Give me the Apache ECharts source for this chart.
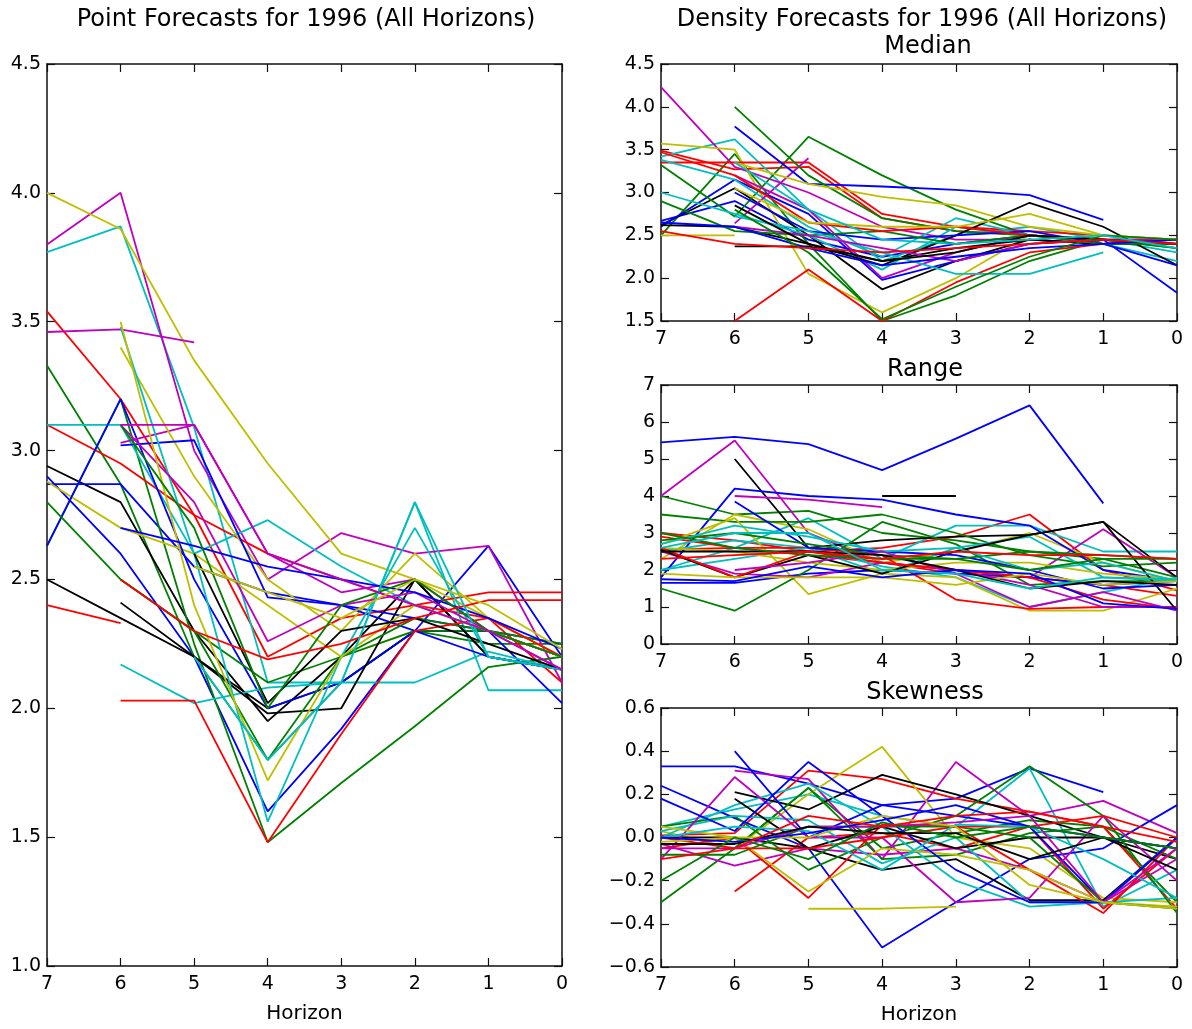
<!DOCTYPE html>
<html><head><meta charset="utf-8">
<script src="https://cdn.jsdelivr.net/npm/echarts@6/dist/echarts.min.js"></script>
<style>html,body{margin:0;padding:0;background:#fff}#c{width:1192px;height:1029px}</style>
</head><body><div id="c"></div>
<script>
// Horizons (x values), drawn with 7 on the left
const horizons = [7, 6, 5, 4, 3, 2, 1, 0];
// Colour cycle order of the lines: b, g, r, c, m, y, k (repeating)
const palette = ['#0000ff', '#008000', '#ff0000', '#00bfbf', '#bf00bf', '#bfbf00', '#000000'];

// Point forecasts (values at horizons 7..0, null = no forecast)
const pointLines = [
  [2.90, 2.60, 2.20, 1.60, 1.92, 2.30, 2.63, 2.20],
  [3.33, 2.87, 2.20, 1.80, 2.10, 2.30, 2.25, 2.25],
  [3.54, 3.20, 2.75, 2.20, 2.35, 2.40, 2.35, 2.10],
  [3.77, 3.87, 3.09, 2.10, 2.10, 2.80, 2.07, 2.07],
  [3.80, 4.00, 3.00, 2.50, 2.68, 2.60, 2.63, 2.10],
  [4.00, 3.86, 3.35, 2.95, 2.60, 2.50, 2.35, 2.20],
  [2.94, 2.80, 2.30, 1.95, 2.20, 2.50, 2.20, 2.15],

  [2.87, 2.87, 2.55, 2.45, 2.40, 2.35, 2.30, 2.25],
  [2.63, 3.20, 2.25, 1.48, 1.71, 1.93, 2.16, 2.20],
  [3.10, 2.95, 2.75, 2.60, 2.50, 2.40, 2.45, 2.45],
  [3.10, 3.10, 2.60, 2.73, 2.55, 2.40, 2.30, 2.20],
  [3.46, 3.47, 3.42, null, null, null, null, null],
  [2.88, 2.70, 2.60, 2.40, 2.20, 2.30, 2.30, 2.20],
  [2.50, 2.35, 2.20, 2.00, 2.10, 2.30, 2.30, 2.20],

  [2.63, 3.20, 2.50, 2.00, 2.10, 2.30, 2.30, 2.02],
  [2.80, 2.50, 2.30, 2.10, 2.20, 2.30, 2.30, 2.25],
  [2.40, 2.33, null, null, null, null, null, null],
  [null, 2.17, 2.02, 2.08, 2.10, 2.10, 2.22, 2.15],
  [null, 3.03, 3.10, 2.60, 2.45, 2.50, 2.30, 2.15],
  [null, 3.40, 2.90, 2.50, 2.30, 2.60, 2.35, 2.20],
  [null, 2.41, 2.20, 1.98, 2.00, 2.50, 2.20, 2.15],

  [null, 3.02, 3.04, 2.43, 2.40, 2.30, 2.20, 2.15],
  [null, 2.50, 2.30, 1.80, 2.20, 2.35, 2.30, 2.20],
  [null, 2.03, 2.03, 1.48, 1.90, 2.30, 2.35, 2.20],
  [null, 3.48, 2.60, 1.56, 2.20, 2.70, 2.20, 2.15],
  [null, 3.10, 2.80, 2.26, 2.40, 2.45, 2.30, 2.20],
  [null, 3.50, 2.40, 1.72, 2.20, 2.40, 2.30, 2.20],
  [null, null, 2.60, 2.02, 2.30, 2.35, 2.25, 2.15],

  [null, 2.70, 2.63, 2.55, 2.50, 2.45, 2.35, 2.23],
  [null, 3.10, 2.70, 2.00, 2.40, 2.50, 2.30, 2.20],
  [null, 2.50, 2.30, 2.19, 2.25, 2.35, 2.42, 2.42],
  [null, null, 2.20, 1.80, 2.10, 2.80, 2.20, 2.15],
  [null, 3.10, 3.10, 2.60, 2.50, 2.40, 2.30, 2.15],
  [null, null, 2.55, 2.45, 2.35, 2.50, 2.40, 2.23]
];

// Density forecasts: median
const medianLines = [
  [2.67, 2.90, 2.45, 2.25, 2.40, 2.50, 2.45, 2.40],
  [2.50, 3.45, 2.40, 1.50, 1.80, 2.20, 2.45, 2.40],
  [3.49, 3.27, 3.30, 2.70, 2.55, 2.50, 2.45, 2.45],
  [3.42, 3.62, 2.80, 2.20, 2.50, 2.60, 2.45, 2.30],
  [4.23, 3.30, 3.00, 2.60, 2.45, 2.45, 2.40, 2.45],
  [3.57, 3.50, 2.05, 1.60, 2.00, 2.50, 2.45, 2.40],
  [2.62, 3.05, 2.50, 1.87, 2.20, 2.45, 2.40, 2.40],

  [2.60, 3.15, 2.75, 1.98, 2.20, 2.40, 2.45, 1.83],
  [3.32, 2.72, 3.65, 3.20, 2.80, 2.50, 2.45, 2.35],
  [3.35, 3.35, 3.35, 2.75, 2.60, 2.55, 2.50, 2.45],
  [3.38, 3.15, 2.60, 2.25, 2.70, 2.50, 2.45, 2.45],
  [null, 2.64, 3.40, null, null, null, null, null],
  [2.50, 2.50, null, null, null, null, null, null],
  [null, 2.37, 2.37, 2.20, 2.35, 2.45, 2.40, 2.45],

  [null, 3.77, 3.10, 3.07, 3.03, 2.97, 2.68, null],
  [null, 4.00, 3.20, 2.70, 2.55, 2.50, 2.45, 2.35],
  [null, 1.50, 2.10, 1.50, 1.95, 2.30, 2.40, 2.45],
  [3.00, 2.75, 2.50, 2.10, 2.60, 2.50, 2.40, 2.20],
  [null, 3.20, 2.80, 2.00, 2.30, 2.50, 2.45, 2.40],
  [null, 3.35, 3.10, 2.95, 2.85, 2.60, 2.50, 2.45],
  [2.62, 2.60, 2.40, 2.15, 2.50, 2.88, 2.60, 2.15],

  [null, 3.00, 2.55, 2.45, 2.50, 2.55, 2.40, 2.15],
  [2.90, 2.55, 2.50, 2.55, 2.40, 2.50, 2.40, 2.40],
  [3.47, 3.20, 2.65, 2.55, 2.60, 2.50, 2.45, 2.40],
  [null, 2.72, 2.55, 2.30, 2.05, 2.05, 2.30, null],
  [null, 2.60, 2.50, 2.35, 2.20, 2.40, 2.45, 2.45],
  [null, 3.05, 2.65, 2.60, 2.60, 2.75, 2.50, 2.45],
  [null, 2.85, 2.40, 2.20, 2.30, 2.50, 2.45, 2.40],

  [2.65, 2.60, 2.35, 2.15, 2.25, 2.35, 2.40, 2.45],
  [null, 2.80, 2.30, 1.52, 1.90, 2.25, 2.50, 2.45],
  [2.55, 2.40, 2.35, 2.30, 2.35, 2.40, 2.45, 2.40],
  [null, 3.35, 2.80, 2.45, 2.40, 2.45, 2.50, 2.35]
];

// Density forecasts: range
const rangeLines = [
  [5.45, 5.60, 5.40, 4.70, 5.55, 6.45, 3.80, null],
  [4.00, 3.50, 3.60, 3.00, 2.80, 2.50, 2.30, 1.80],
  [3.00, 2.80, 2.50, 2.60, 2.90, 3.50, 2.00, 1.45],
  [2.00, 2.60, 3.40, 2.30, 3.20, 3.20, 2.50, 2.50],
  [4.00, 5.50, 3.00, 2.20, 2.00, 1.80, 3.10, 1.80],
  [2.30, 3.50, 3.10, 2.20, 2.50, 3.00, 2.20, 1.70],
  [null, 5.00, 2.60, 2.80, 2.90, 2.95, 3.30, 1.80],

  [1.80, 4.20, 4.00, 3.90, 3.50, 3.20, 2.00, 1.70],
  [3.50, 3.30, 3.30, 3.50, 3.00, 2.40, 2.10, 2.20],
  [2.55, 2.60, 2.40, 2.20, 1.90, 1.80, 1.60, 1.30],
  [2.50, 2.80, 2.60, 2.10, 1.80, 1.00, 1.40, 1.80],
  [null, 4.00, 3.90, 3.70, null, null, null, null],
  [2.70, 3.40, 1.35, 1.90, 1.80, 0.90, 0.90, 1.50],
  [null, null, null, 4.00, 4.00, null, null, null],

  [1.65, 1.65, 1.90, 2.00, 1.90, 1.80, 1.60, 1.70],
  [1.50, 0.90, 2.00, 3.30, 2.70, 1.60, 1.70, 1.70],
  [2.90, 2.60, 2.60, 2.40, 1.20, 0.95, 1.00, 1.00],
  [2.00, 2.30, 2.60, 1.90, 2.60, 2.90, 1.80, 1.70],
  [2.50, 1.90, 1.80, 2.20, 2.00, 1.60, 1.00, 1.00],
  [2.60, 2.50, 2.20, 2.00, 2.20, 2.20, 1.90, 1.75],
  [2.55, 1.80, 2.40, 1.90, 2.50, 2.95, 3.30, 0.90],

  [null, 3.85, 2.60, 2.50, 2.40, 2.00, 1.50, 1.60],
  [2.80, 3.00, 2.70, 2.40, 2.30, 2.50, 2.40, 2.30],
  [2.60, 1.80, 2.50, 2.20, 2.00, 1.80, 1.20, 0.95],
  [2.70, 3.20, 2.90, 2.50, 2.60, 2.00, 2.20, 1.70],
  [null, 2.00, 2.20, 2.50, 1.90, 1.00, 1.40, 0.90],
  [1.90, 1.80, 1.80, 1.80, 1.60, 1.90, 1.60, 1.70],
  [2.50, 2.50, 2.50, 2.40, 2.00, 1.50, 1.70, 1.60],

  [1.75, 1.70, 2.10, 1.80, 2.00, 1.90, 1.10, 0.95],
  [3.00, 2.60, 2.40, 2.30, 2.30, 2.00, 2.30, 2.30],
  [2.30, 2.40, 2.50, 2.30, 2.50, 2.40, 2.40, 2.30],
  [2.60, 3.00, 3.00, 2.00, 1.90, 1.50, 1.80, 1.75]
];

// Density forecasts: skewness
const skewLines = [
  [0.33, 0.33, 0.25, 0.15, 0.18, 0.32, 0.21, null],
  [-0.30, -0.05, 0.23, -0.05, 0.02, 0.08, 0.05, -0.30],
  [0.01, 0.02, 0.31, 0.27, 0.18, 0.12, 0.05, -0.33],
  [0.05, 0.13, 0.20, 0.10, 0.05, 0.32, -0.32, -0.15],
  [null, 0.31, 0.27, -0.10, 0.35, 0.10, 0.17, 0.02],
  [0.03, -0.05, 0.20, 0.42, 0.00, -0.05, -0.28, -0.30],
  [null, 0.21, 0.13, 0.29, 0.20, 0.10, 0.00, -0.10],

  [0.24, 0.09, -0.05, -0.51, -0.30, -0.10, -0.05, 0.15],
  [null, -0.05, 0.23, -0.10, -0.08, 0.02, 0.05, -0.10],
  [null, -0.25, 0.00, 0.02, -0.05, 0.05, -0.33, -0.05],
  [0.00, 0.15, 0.25, 0.05, -0.20, -0.32, -0.30, -0.28],
  [-0.03, -0.13, -0.05, -0.08, -0.05, -0.15, -0.30, -0.10],
  [null, null, -0.33, -0.33, -0.32, null, null, null],
  [0.00, 0.00, -0.05, -0.15, -0.10, -0.29, -0.29, 0.00],

  [null, 0.40, 0.00, 0.15, 0.10, 0.05, -0.30, 0.00],
  [0.05, 0.10, -0.15, 0.00, 0.10, 0.33, 0.10, -0.35],
  [-0.05, 0.00, -0.28, 0.06, 0.05, -0.15, -0.35, 0.00],
  [0.03, 0.10, 0.08, -0.12, 0.00, -0.30, -0.30, 0.00],
  [-0.10, 0.28, 0.00, 0.00, -0.30, -0.28, 0.10, -0.20],
  [0.05, 0.00, -0.25, -0.05, -0.08, -0.15, -0.30, -0.32],
  [null, 0.18, -0.05, 0.05, -0.05, 0.00, 0.00, -0.05],

  [0.18, 0.03, 0.35, 0.10, -0.15, -0.30, -0.30, 0.00],
  [-0.08, -0.08, 0.05, 0.05, 0.05, 0.00, -0.30, -0.33],
  [0.00, -0.05, -0.05, 0.00, 0.05, 0.05, 0.10, 0.00],
  [0.00, 0.05, 0.03, -0.15, 0.06, 0.05, -0.10, -0.28],
  [-0.05, -0.05, 0.05, 0.05, 0.07, 0.10, -0.30, -0.05],
  [-0.02, 0.00, 0.00, 0.10, 0.05, -0.22, -0.30, -0.33],
  [-0.03, -0.03, 0.05, 0.02, 0.02, -0.10, 0.00, -0.15],

  [0.00, -0.02, 0.02, 0.08, 0.15, 0.05, 0.00, -0.05],
  [-0.20, 0.00, -0.10, 0.07, 0.00, 0.05, 0.00, -0.05],
  [-0.10, -0.05, 0.10, 0.05, 0.10, 0.12, 0.05, -0.02]
];

const titles = ['Point Forecasts for 1996 (All Horizons)', 'Density Forecasts for 1996 (All Horizons)', 'Median', 'Range', 'Skewness'];
const xName = 'Horizon';

const font = 'DejaVu Sans';
const grids = [
  {left: 47, top: 64, width: 515, height: 903},
  {left: 661, top: 64, width: 516, height: 257},
  {left: 661, top: 385, width: 516, height: 259},
  {left: 661, top: 708, width: 516, height: 259}
];
const yRanges = [
  {min: 1.0, max: 4.5, interval: 0.5, dec: 1},
  {min: 1.5, max: 4.5, interval: 0.5, dec: 1},
  {min: 0, max: 7, interval: 1, dec: 0},
  {min: -0.6, max: 0.6, interval: 0.2, dec: 1}
];
const showXName = [true, false, false, true];

const axisLineStyle = {show: true, onZero: false, lineStyle: {color: '#111', width: 1.5}};
const tickStyle = {show: true, inside: true, length: 8, lineStyle: {color: '#111', width: 1.2}};
const xAxis = [], yAxis = [], series = [];
grids.forEach((g, i) => {
  xAxis.push({
    type: 'value', gridIndex: i, min: 0, max: 7, interval: 1, inverse: true, position: 'bottom',
    axisLine: axisLineStyle, splitLine: {show: false}, axisTick: tickStyle,
    axisLabel: {fontFamily: font, fontSize: 19, color: '#000', margin: 9},
    name: showXName[i] ? xName : '', nameLocation: 'middle', nameGap: 38,
    nameTextStyle: {fontFamily: font, fontSize: 20, color: '#000'}
  });
  xAxis.push({
    type: 'value', gridIndex: i, min: 0, max: 7, interval: 1, inverse: true, position: 'top',
    axisLine: axisLineStyle, splitLine: {show: false}, axisTick: tickStyle,
    axisLabel: {show: false}
  });
  const r = yRanges[i];
  const fmt = v => {
    const s = Math.abs(v).toFixed(r.dec);
    return (v < -1e-9 ? '\u2212' : '') + s;
  };
  yAxis.push({
    type: 'value', gridIndex: i, min: r.min, max: r.max, interval: r.interval, position: 'left',
    axisLine: axisLineStyle, splitLine: {show: false}, axisTick: tickStyle,
    axisLabel: {fontFamily: font, fontSize: 19, color: '#000', margin: 6, formatter: fmt}
  });
  yAxis.push({
    type: 'value', gridIndex: i, min: r.min, max: r.max, interval: r.interval, position: 'right',
    axisLine: axisLineStyle, splitLine: {show: false}, axisTick: tickStyle,
    axisLabel: {show: false}
  });
});

[pointLines, medianLines, rangeLines, skewLines].forEach((lines, gi) => {
  lines.forEach((vals, k) => {
    series.push({
      type: 'line', xAxisIndex: gi * 2, yAxisIndex: gi * 2,
      data: vals.map((v, j) => [horizons[j], v]),
      showSymbol: false, symbol: 'none', connectNulls: false,
      lineStyle: {width: 1.8, color: palette[k % palette.length]},
      itemStyle: {color: palette[k % palette.length]},
      emphasis: {disabled: true}, silent: true, z: 2
    });
  });
});

const tStyle = (size) => ({fontFamily: font, fontSize: size, color: '#000', fontWeight: 'normal'});
const title = [
  {text: titles[0], left: 301, top: 3, textAlign: 'center', textStyle: tStyle(24)},
  {text: titles[1], left: 917, top: 3, textAlign: 'center', textStyle: tStyle(24)},
  {text: titles[2], left: 923, top: 30, textAlign: 'center', textStyle: tStyle(24)},
  {text: titles[3], left: 920, top: 353, textAlign: 'center', textStyle: tStyle(24)},
  {text: titles[4], left: 920, top: 676, textAlign: 'center', textStyle: tStyle(24)}
];

const chart = echarts.init(document.getElementById('c'), null, {renderer: 'canvas'});
chart.setOption({
  animation: false, backgroundColor: '#fff', color: palette,
  title, grid: grids, xAxis, yAxis, series
});
</script></body></html>
